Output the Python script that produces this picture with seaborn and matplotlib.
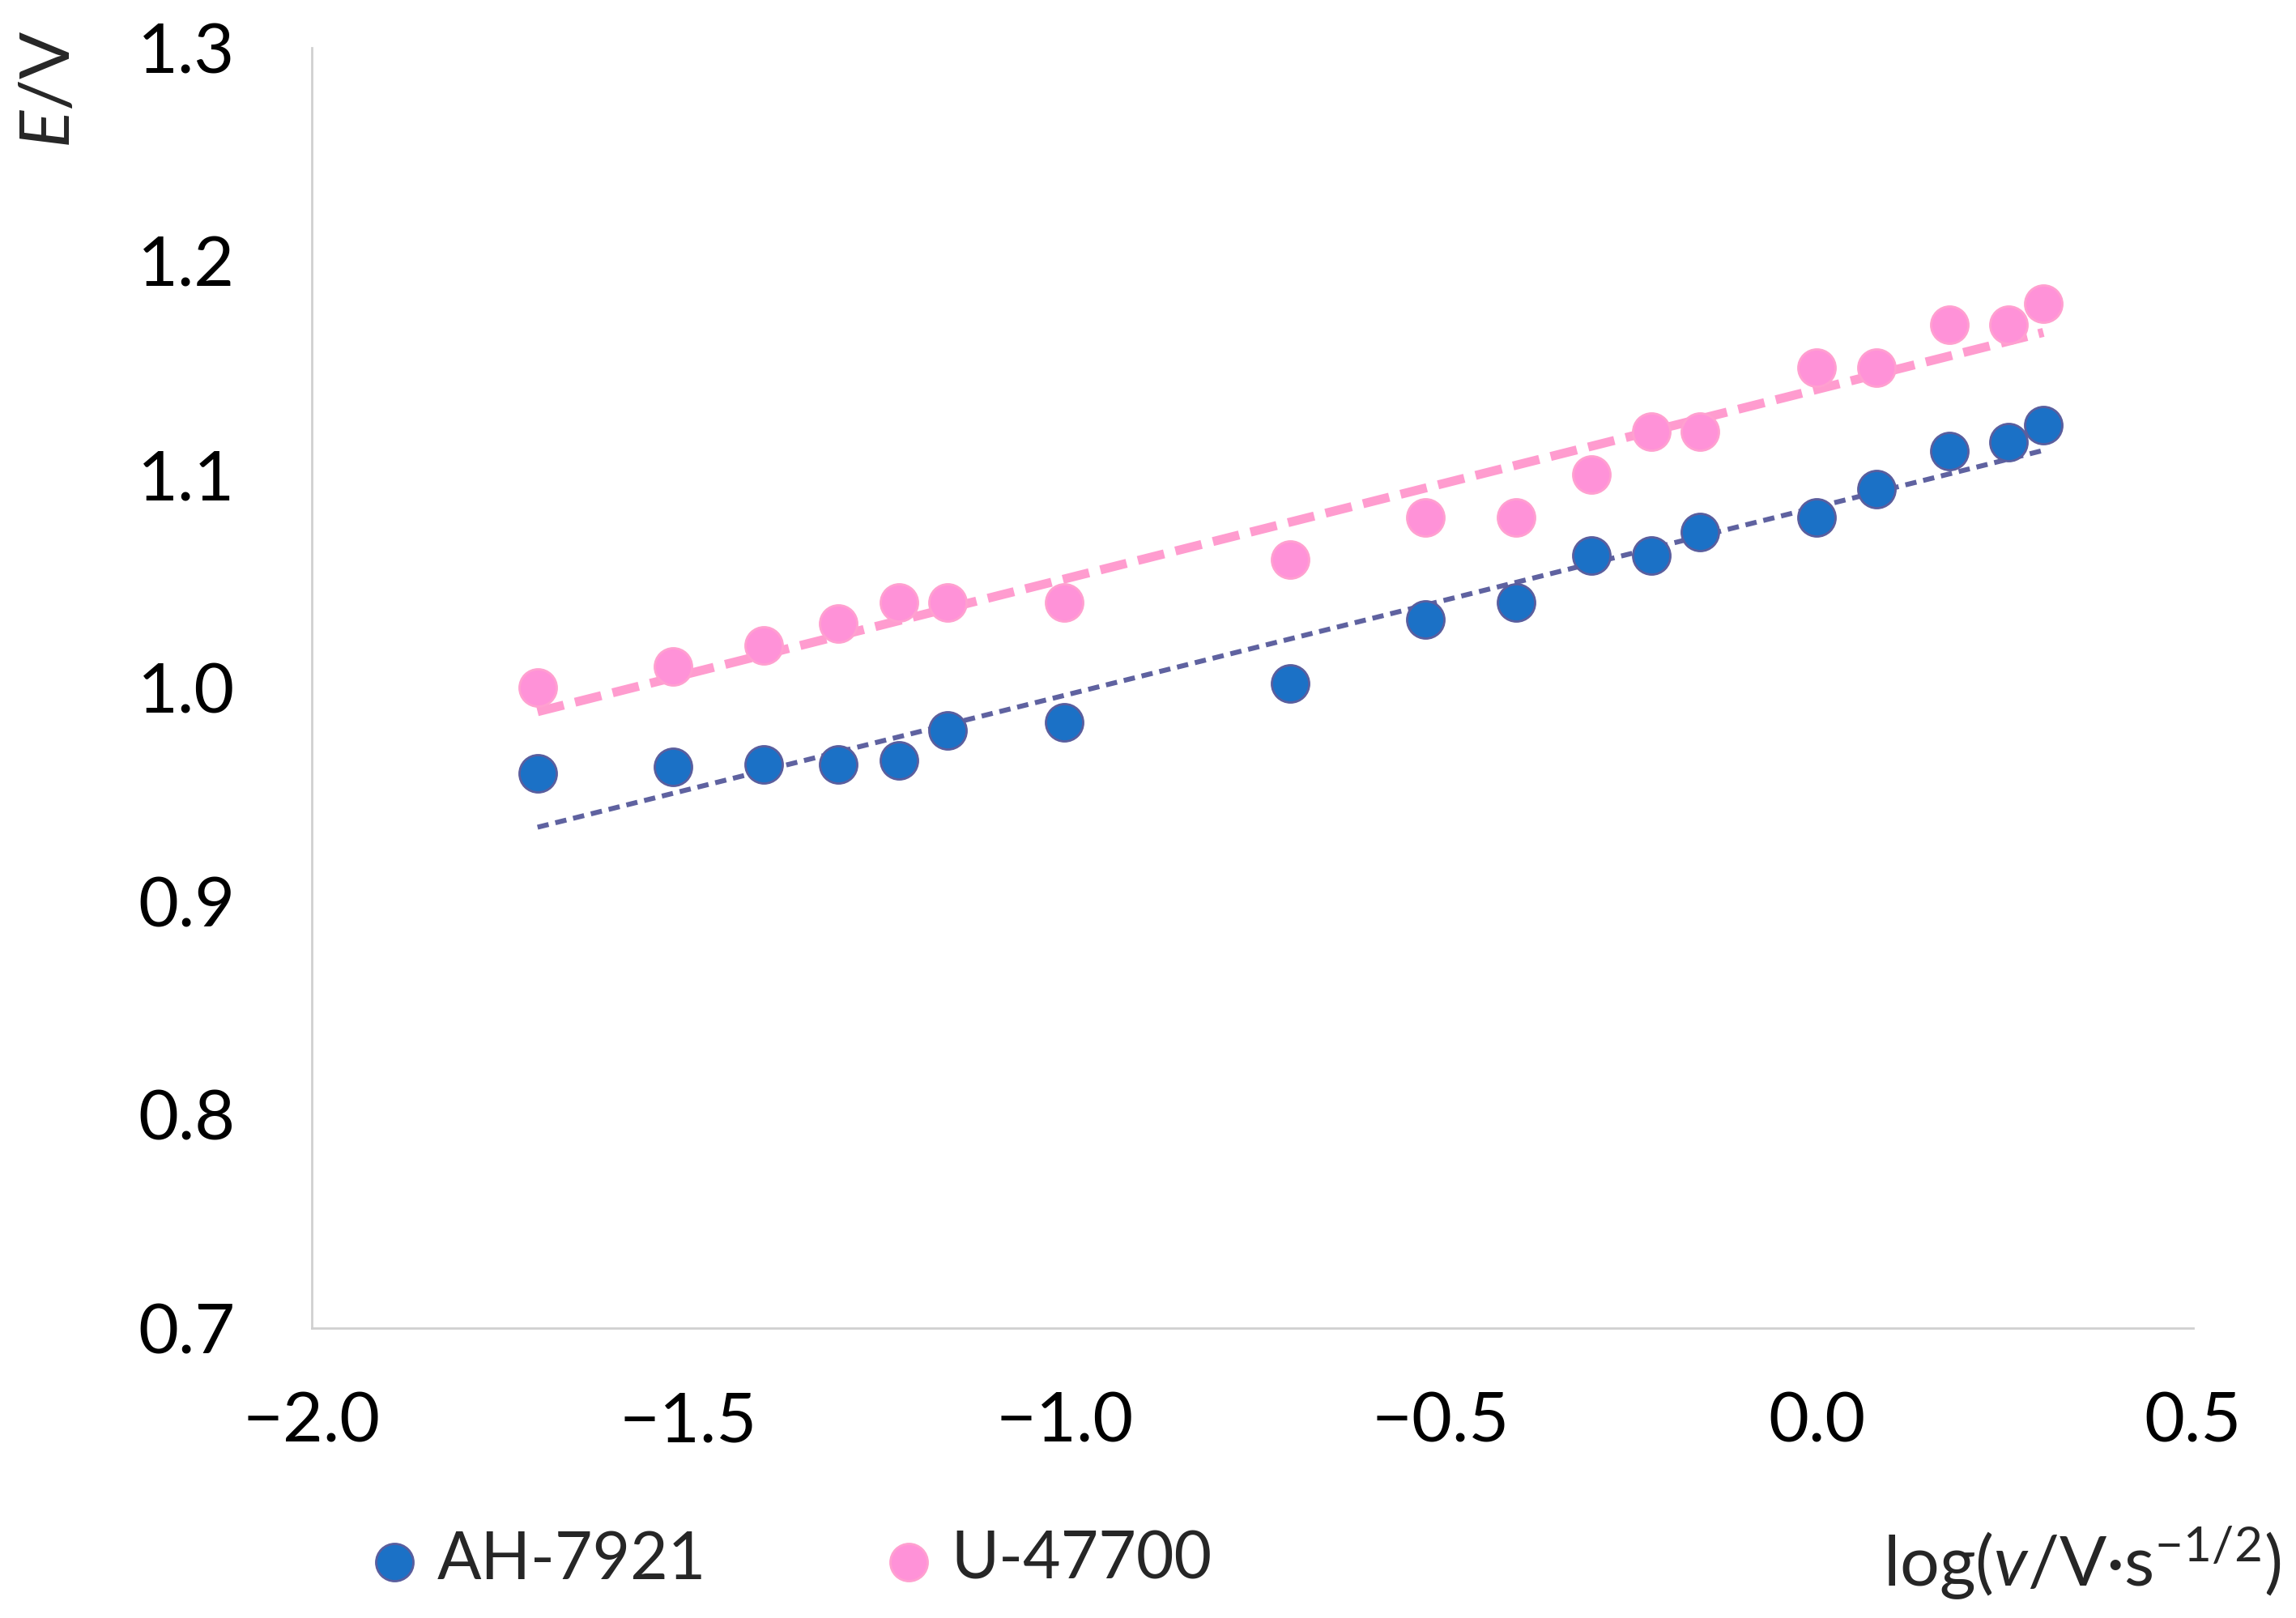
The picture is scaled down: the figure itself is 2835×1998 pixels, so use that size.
import numpy as np
import pandas as pd
import matplotlib
matplotlib.use("Agg")
import matplotlib.pyplot as plt
import seaborn as sns

# log of scan rate (x) and peak potential E/V for the two compounds
log_v = [-1.70, -1.52, -1.40, -1.30, -1.22, -1.155, -1.00, -0.70, -0.52,
         -0.40, -0.30, -0.22, -0.155, 0.00, 0.079, 0.176, 0.255, 0.301]
e_ah7921 = [0.960, 0.963, 0.964, 0.964, 0.966, 0.980, 0.984, 1.002, 1.032,
            1.040, 1.062, 1.062, 1.073, 1.080, 1.093, 1.111, 1.115, 1.123]
e_u47700 = [1.00, 1.01, 1.02, 1.03, 1.04, 1.04, 1.04, 1.06, 1.08,
            1.08, 1.10, 1.12, 1.12, 1.15, 1.15, 1.17, 1.17, 1.18]
series_names = ["AH-7921", "U-47700"]

x_ticks = [-2.0, -1.5, -1.0, -0.5, 0.0, 0.5]
y_ticks = [0.7, 0.8, 0.9, 1.0, 1.1, 1.2, 1.3]

fill = {"AH-7921": "#1b71c6", "U-47700": "#ff92d8"}
edge = {"AH-7921": "#5a5e9e", "U-47700": "#ffa0d0"}

df = pd.concat([
    pd.DataFrame({"x": log_v, "E": e_ah7921, "compound": series_names[0]}),
    pd.DataFrame({"x": log_v, "E": e_u47700, "compound": series_names[1]}),
])

sns.set_style("white")
plt.rcParams["font.family"] = ["Lato", "DejaVu Sans"]
plt.rcParams["mathtext.fontset"] = "custom"
plt.rcParams["mathtext.rm"] = "Lato"
plt.rcParams["mathtext.it"] = "Lato:italic"

fig = plt.figure(figsize=(14.175, 9.99), dpi=200)
ax = fig.add_axes([0.1358, 0.1792, 0.8194, 0.7913])

# trend lines
sns.regplot(data=df[df.compound == "AH-7921"], x="x", y="E", scatter=False,
            ci=None, ax=ax,
            line_kws=dict(color="#5f62a0", lw=2.2, dashes=(2.3, 1.4)))
sns.regplot(data=df[df.compound == "U-47700"], x="x", y="E", scatter=False,
            ci=None, ax=ax,
            line_kws=dict(color="#ff9ccf", lw=4.0, dashes=(3.0, 1.3)))

for name in series_names:
    sub = df[df.compound == name]
    sns.scatterplot(data=sub, x="x", y="E", ax=ax, s=275, color=fill[name],
                    edgecolor=edge[name], linewidth=1.0, label=name, zorder=3)

ax.set_xlim(-2.0, 0.5)
ax.set_ylim(0.7, 1.3)
ax.set_xticks(x_ticks)
ax.set_yticks(y_ticks)
ax.set_xticklabels([f"{t:.1f}".replace("-", "\u2212") for t in x_ticks])
ax.set_yticklabels([f"{t:.1f}" for t in y_ticks])
ax.tick_params(axis="both", length=0, labelsize=31, colors="black")
ax.tick_params(axis="y", pad=34)
ax.tick_params(axis="x", pad=28)
ax.set_xlabel("")
ax.set_ylabel("")

for s in ["top", "right"]:
    ax.spines[s].set_visible(False)
for s in ["left", "bottom"]:
    ax.spines[s].set_color("#d0d0d0")
    ax.spines[s].set_linewidth(1.0)

fig.text(62 / 2835, 1 - 38 / 1998, r"$\mathit{E}$/V", rotation=90,
         ha="center", va="top", fontsize=31)
fig.text(2816 / 2835, 1 - 1930 / 1998, r"log($\mathit{v}$/V·s$^{-1/2}$)",
         ha="right", va="center", fontsize=31)

handles, labels = ax.get_legend_handles_labels()
ax.legend(handles, labels, loc="center left", ncol=2, frameon=False,
          bbox_to_anchor=(455 / 2835, 1 - 1927 / 1998),
          bbox_transform=fig.transFigure, fontsize=29,
          handlelength=0.8, handletextpad=0.25, columnspacing=2.7,
          borderpad=0, borderaxespad=0)

fig.savefig("out.png", dpi=200)
